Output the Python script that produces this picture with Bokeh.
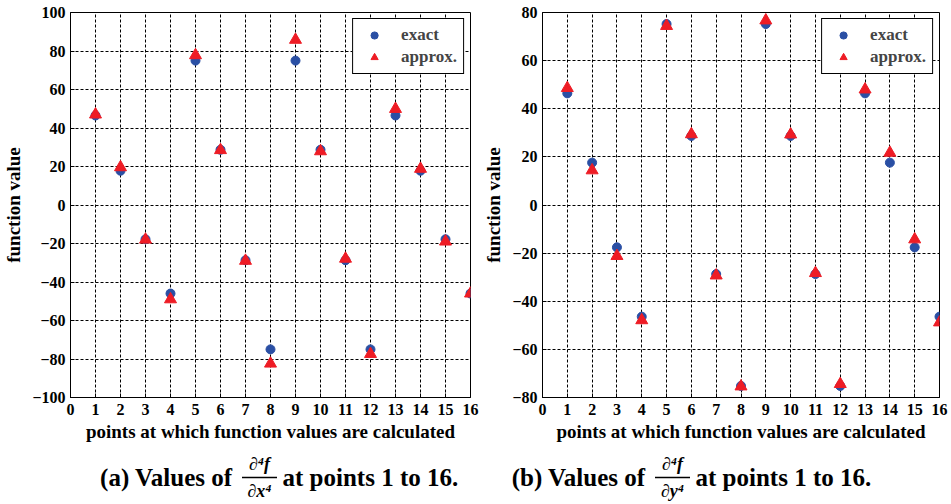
from bokeh.plotting import figure
from bokeh.layouts import column, row
from bokeh.models import FixedTicker
from bokeh.core.properties import value
from bokeh.embed import file_html
from bokeh.resources import INLINE

# ---- data ----
points = list(range(1, 17))
exact_a = [46.5, 17.8, -17.8, -46.0, 75.0, 28.7, -28.7, -75.0, 75.0, 28.7, -28.7, -75.0, 46.5, 17.8, -17.8, -46.0]
approx_a = [47.0, 19.6, -18.0, -49.0, 77.8, 28.5, -29.0, -82.4, 85.8, 27.9, -27.9, -77.4, 49.9, 18.8, -19.0, -46.0]
exact_b = [46.4, 17.6, -17.6, -46.4, 75.2, 28.7, -28.7, -75.2, 75.2, 28.7, -28.7, -75.2, 46.4, 17.6, -17.6, -46.4]
approx_b = [48.6, 14.4, -21.2, -47.9, 74.4, 29.4, -29.3, -75.4, 76.7, 29.3, -28.3, -74.4, 48.0, 21.7, -14.3, -48.8]
x_ticks = list(range(0, 17))
y_ticks_a = list(range(-100, 101, 20))
y_ticks_b = list(range(-80, 81, 20))
series_labels = ["exact", "approx."]
x_title = "points at which function values are calculated"
y_title = "function value"
cap_prefix = ["(a) Values of", "(b) Values of"]
cap_num = ["\u2202\u2074f", "\u2202\u2074f"]
cap_den = ["\u2202x\u2074", "\u2202y\u2074"]
cap_suffix = ["at points 1 to 16.", "at points 1 to 16."]

FONT = "Liberation Serif"
BLUE = "#2a4fa4"
RED = "#ee1c25"
FIG_H = 452


def make_fig(width, mbl, mbr, mbt, mbb, yr, yticks, exact, approx):
    p = figure(width=width, height=FIG_H, x_range=(0, 16), y_range=yr,
               toolbar_location=None, output_backend="svg",
               min_border_left=mbl, min_border_right=mbr,
               min_border_top=mbt, min_border_bottom=mbb)
    p.xaxis.ticker = FixedTicker(ticks=x_ticks)
    p.yaxis.ticker = FixedTicker(ticks=yticks)
    for ax in (p.xaxis[0], p.yaxis[0]):
        ax.major_label_text_font = FONT
        ax.major_label_text_font_style = "bold"
        ax.major_label_text_font_size = "16px"
        ax.major_label_text_color = "black"
        ax.axis_label_text_font = FONT
        ax.axis_label_text_font_style = "bold"
        ax.axis_label_text_font_size = "19px"
        ax.axis_label_text_color = "black"
        ax.axis_line_color = "black"
        ax.major_tick_line_color = "black"
        ax.major_tick_in = 4
        ax.major_tick_out = 0
        ax.minor_tick_line_color = None
    p.xaxis.major_label_standoff = 6
    p.xaxis.axis_label_standoff = 3
    p.yaxis.major_label_standoff = 5
    p.yaxis.axis_label_standoff = 5
    p.xaxis.axis_label = x_title
    p.yaxis.axis_label = y_title
    for g in (p.xgrid[0], p.ygrid[0]):
        g.grid_line_color = "black"
        g.grid_line_dash = "3 2"
        g.grid_line_width = 1
        g.grid_line_alpha = 1.0
    p.outline_line_color = "black"
    p.outline_line_alpha = 1.0
    p.scatter(points, exact, marker="circle", size=9, color=BLUE, legend_label=series_labels[0])
    p.scatter(points, approx, marker="triangle", size=12, color=RED, legend_label=series_labels[1])
    lg = p.legend[0]
    lg.location = "top_right"
    lg.margin = 6
    lg.padding = 6
    lg.spacing = 2
    lg.glyph_width = 30
    lg.glyph_height = 18
    lg.label_standoff = 12
    lg.label_text_font = FONT
    lg.label_text_font_style = "bold"
    lg.label_text_font_size = "17px"
    lg.border_line_color = "black"
    lg.border_line_alpha = 1.0
    lg.background_fill_alpha = 1.0
    return p


p1 = make_fig(480, 68, 10, 10, FIG_H - 399, (-100, 100), y_ticks_a, exact_a, approx_a)
p2 = make_fig(470, 57, 11, 12, FIG_H - 397, (-80, 80), y_ticks_b, exact_b, approx_b)

CAP_H = 50
cap = figure(width=950, height=CAP_H, x_range=(0, 950), y_range=(0, CAP_H),
             toolbar_location=None, output_backend="svg", min_border=0)
cap.axis.visible = False
cap.grid.visible = False
cap.outline_line_color = None

frac_cx = [259, 672]
cap.text(x=[232, 645], y=[25, 25], text=cap_prefix, text_align="right", text_baseline="middle",
         text_font=value(FONT), text_font_style="bold", text_font_size="25px", text_color="black")
cap.text(x=[282, 695], y=[25, 25], text=cap_suffix, text_align="left", text_baseline="middle",
         text_font=value(FONT), text_font_style="bold", text_font_size="25px", text_color="black")
cap.text(x=frac_cx, y=[39, 39], text=cap_num, text_align="center", text_baseline="middle",
         text_font=value(FONT), text_font_style="bold italic", text_font_size="18px", text_color="black")
cap.text(x=frac_cx, y=[12, 12], text=cap_den, text_align="center", text_baseline="middle",
         text_font=value(FONT), text_font_style="bold italic", text_font_size="18px", text_color="black")
cap.segment(x0=[c - 17.5 for c in frac_cx], x1=[c + 17.5 for c in frac_cx], y0=[25, 25], y1=[25, 25],
            line_color="black", line_width=1.5)

layout = column(row(p1, p2), cap)
open("out.html", "w").write(file_html(layout, INLINE))
